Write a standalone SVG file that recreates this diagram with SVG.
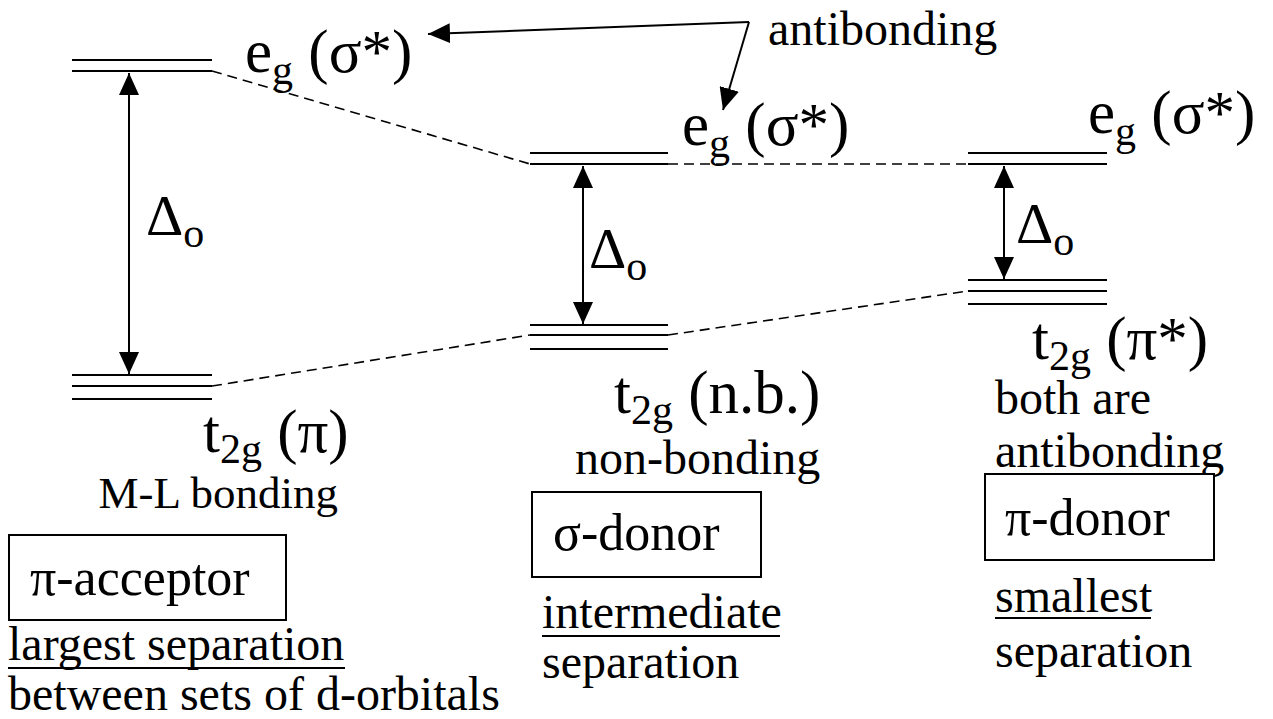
<svg xmlns="http://www.w3.org/2000/svg" width="1273" height="719" viewBox="0 0 1273 719">
<style>
text{font-family:"Liberation Serif","Times New Roman",serif;fill:#000}
.big{font-size:61px}
.sub{font-size:42px}
.lbl{font-size:48px}
.ml{font-size:45px}
.box{font-size:52px}
.delta{font-size:58px}
.lvl{stroke:#000;stroke-width:2;fill:none}
.dash{stroke:#000;stroke-width:1.6;stroke-dasharray:10 6;fill:none}
.arr{stroke:#000;stroke-width:2;fill:none}
.frame{stroke:#000;stroke-width:2;fill:#fff}
.ul{stroke:#000;stroke-width:2}
</style>
<defs>
<marker id="ah" markerUnits="userSpaceOnUse" markerWidth="22" markerHeight="20" refX="22" refY="10" orient="auto-start-reverse" viewBox="0 0 22 20">
<path d="M0,0 L22,10 L0,20 z" fill="#000"/>
</marker>
</defs>
<rect width="1273" height="719" fill="#fff"/>

<g id="connectors">
<line class="dash" x1="212" y1="71" x2="530" y2="164"/>
<line class="dash" x1="668" y1="164" x2="968" y2="164"/>
<line class="dash" x1="212" y1="386" x2="530" y2="335"/>
<line class="dash" x1="668" y1="335" x2="968" y2="291"/>
<line class="arr" x1="129" y1="73" x2="129" y2="374" marker-start="url(#ah)" marker-end="url(#ah)"/>
<line class="arr" x1="583" y1="166" x2="583" y2="324" marker-start="url(#ah)" marker-end="url(#ah)"/>
<line class="arr" x1="1004" y1="166" x2="1004" y2="279" marker-start="url(#ah)" marker-end="url(#ah)"/>
<polyline class="arr" points="749,22 428,34" marker-end="url(#ah)"/>
<polyline class="arr" points="749,22 723,110" marker-end="url(#ah)"/>
</g>

<g id="left-eg">
<line class="lvl" x1="72" y1="60" x2="212" y2="60"/>
<line class="lvl" x1="72" y1="71" x2="212" y2="71"/>
<text class="big" x="245" y="72">e<tspan class="sub" dy="12">g</tspan><tspan dy="-12"> (σ*)</tspan></text>
</g>
<g id="left-t2g">
<line class="lvl" x1="72" y1="375" x2="212" y2="375"/>
<line class="lvl" x1="72" y1="386" x2="212" y2="386"/>
<line class="lvl" x1="72" y1="399" x2="212" y2="399"/>
<text class="big" x="203" y="452">t<tspan class="sub" dy="11">2g</tspan><tspan dy="-11"> (π)</tspan></text>
<text class="ml" x="338" y="508" text-anchor="end">M-L bonding</text>
</g>
<g id="left-delta">
<text class="delta" x="146" y="235">Δ<tspan class="sub" dy="12">o</tspan></text>
</g>
<g id="pi-acceptor">
<rect class="frame" x="9" y="535" width="277" height="85"/>
<text class="box" x="30" y="595">π-acceptor</text>
<text class="lbl" x="8" y="660">largest separation</text>
<line class="ul" x1="8" y1="668" x2="345" y2="668"/>
<text class="lbl" x="8" y="710">between sets of d-orbitals</text>
</g>

<g id="mid-eg">
<line class="lvl" x1="530" y1="153" x2="668" y2="153"/>
<line class="lvl" x1="530" y1="164" x2="668" y2="164"/>
<text class="big" x="682" y="145">e<tspan class="sub" dy="12">g</tspan><tspan dy="-12"> (σ*)</tspan></text>
</g>
<g id="mid-t2g">
<line class="lvl" x1="530" y1="325" x2="668" y2="325"/>
<line class="lvl" x1="530" y1="335" x2="668" y2="335"/>
<line class="lvl" x1="530" y1="349" x2="668" y2="349"/>
<text class="big" x="614" y="413">t<tspan class="sub" dy="11">2g</tspan><tspan dy="-11"> (n.b.)</tspan></text>
<text class="lbl" x="575" y="474">non-bonding</text>
</g>
<g id="mid-delta">
<text class="delta" x="589" y="268">Δ<tspan class="sub" dy="12">o</tspan></text>
</g>
<g id="sigma-donor">
<rect class="frame" x="532" y="492" width="229" height="85"/>
<text class="box" x="553" y="550">σ-donor</text>
<text class="lbl" x="542" y="628">intermediate</text>
<line class="ul" x1="542" y1="636" x2="780" y2="636"/>
<text class="lbl" x="542" y="678">separation</text>
</g>

<g id="right-eg">
<line class="lvl" x1="968" y1="153" x2="1107" y2="153"/>
<line class="lvl" x1="968" y1="164" x2="1107" y2="164"/>
<text class="big" x="1088" y="133">e<tspan class="sub" dy="12">g</tspan><tspan dy="-12"> (σ*)</tspan></text>
</g>
<g id="right-t2g">
<line class="lvl" x1="968" y1="280" x2="1107" y2="280"/>
<line class="lvl" x1="968" y1="291" x2="1107" y2="291"/>
<line class="lvl" x1="968" y1="304" x2="1107" y2="304"/>
<text class="big" x="1032" y="359">t<tspan class="sub" dy="11">2g</tspan><tspan dy="-11"> (π*)</tspan></text>
<text class="lbl" x="995" y="414">both are</text>
<text class="lbl" x="995" y="467">antibonding</text>
</g>
<g id="right-delta">
<text class="delta" x="1016" y="243">Δ<tspan class="sub" dy="12">o</tspan></text>
</g>
<g id="pi-donor">
<rect class="frame" x="985" y="474" width="229" height="86"/>
<text class="box" x="1005" y="535">π-donor</text>
<text class="lbl" x="995" y="612">smallest</text>
<line class="ul" x1="995" y1="618" x2="1151" y2="618"/>
<text class="lbl" x="995" y="667">separation</text>
</g>

<g id="antibonding-label">
<text class="lbl" x="768" y="45">antibonding</text>
</g>
</svg>
